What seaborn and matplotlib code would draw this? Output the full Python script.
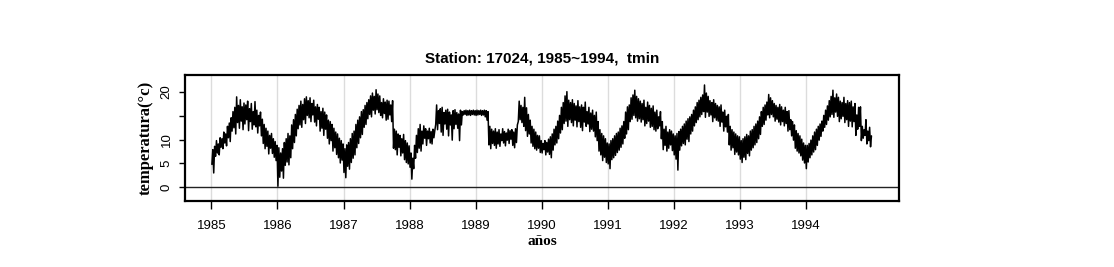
import numpy as np
import pandas as pd
import matplotlib
matplotlib.use("Agg")
import matplotlib.pyplot as plt
import seaborn as sns

# minimum temperature, read from the picture as a low / high value per 10-day bin
# (36 bins per year, Jan 1-10, Jan 11-20, Jan 21-31, Feb 1-10, ...)
years = list(range(1985, 1995))

tmin_lo = {
    1985: [4.8, 3.0, 6.5, 7.2, 6.8, 8.4, 8.1, 9.3, 8.7, 10.4, 9.6, 11.8,
           12.5, 11.2, 13.6, 12.4, 13.9, 12.1, 13.3, 14.2, 11.9, 13.8, 12.2, 13.1,
           12.7, 11.4, 12.9, 10.8, 9.2, 8.1, 8.6, 7.0, 8.2, 7.1, 6.3, 5.6],
    1986: [0.2, 2.1, 3.4, 1.9, 4.6, 5.3, 4.7, 6.2, 8.1, 9.4, 10.8, 12.3,
           13.1, 12.6, 14.2, 13.4, 15.1, 14.6, 13.8, 15.2, 13.7, 12.9, 14.3, 11.8,
           12.4, 10.9, 12.2, 10.3, 9.1, 9.8, 7.6, 8.3, 6.9, 6.2, 5.1, 5.7],
    1987: [3.1, 2.0, 4.4, 3.8, 5.2, 6.1, 6.8, 8.3, 9.2, 10.4, 11.1, 12.6,
           13.2, 14.4, 15.3, 14.8, 16.2, 15.4, 16.3, 15.7, 15.1, 14.6, 15.5, 14.1,
           14.3, 15.2, 13.8, 8.2, 7.9, 6.8, 8.4, 6.6, 7.2, 5.8, 5.2, 4.9],
    1988: [4.2, 1.7, 3.9, 6.1, 7.3, 8.2, 7.6, 9.1, 10.3, 8.8, 10.2, 9.3,
           9.1, 10.4, 13.2, 12.1, 13.4, 11.6, 10.9, 13.3, 12.2, 10.8, 13.1, 9.9,
           12.3, 13.2, 12.4, 9.8, 13.1, 15.2, 15.3, 15.1, 15.2, 15.1, 15.3, 15.2],
    1989: [15.1, 15.2, 15.3, 15.1, 15.2, 14.8, 14.1, 8.9, 8.1, 9.2, 8.8, 8.2,
           9.1, 8.6, 9.8, 9.3, 8.7, 9.9, 9.2, 10.1, 8.8, 8.3, 9.4, 13.8,
           14.2, 13.6, 12.8, 11.9, 10.7, 11.2, 9.3, 8.6, 8.1, 7.8, 8.2, 7.3],
    1990: [7.2, 7.9, 6.8, 7.4, 6.9, 6.2, 7.8, 8.9, 9.3, 10.2, 11.4, 12.1,
           13.4, 13.9, 12.8, 14.2, 13.6, 12.9, 14.1, 12.7, 13.8, 12.6, 11.9, 13.7,
           12.8, 13.3, 11.7, 12.2, 11.8, 10.6, 9.8, 7.6, 6.8, 5.6, 6.3, 5.2],
    1991: [4.9, 3.9, 5.8, 6.2, 6.7, 7.3, 7.8, 8.4, 9.1, 10.3, 11.2, 12.1,
           13.8, 14.3, 15.1, 14.6, 13.9, 14.4, 13.7, 14.2, 12.9, 13.4, 13.9, 12.6,
           12.8, 12.1, 11.8, 12.3, 12.9, 10.2, 7.9, 8.8, 7.6, 8.2, 8.9, 7.7],
    1992: [6.8, 5.9, 3.6, 7.8, 8.7, 9.2, 8.9, 10.1, 9.6, 11.2, 11.8, 12.9,
           13.6, 14.2, 14.8, 15.3, 15.9, 14.7, 15.8, 14.9, 15.2, 13.8, 14.6, 14.1,
           13.9, 12.8, 13.7, 11.8, 12.7, 11.6, 8.9, 7.8, 8.3, 6.9, 7.4, 6.8],
    1993: [5.9, 5.2, 6.3, 5.8, 7.1, 6.6, 7.8, 8.3, 8.9, 9.4, 10.2, 11.1,
           12.8, 13.2, 14.1, 15.2, 14.6, 15.3, 14.8, 13.9, 14.3, 13.7, 13.1, 13.8,
           12.9, 13.4, 11.8, 12.1, 10.8, 9.9, 8.2, 7.6, 7.2, 6.6, 5.7, 5.1],
    1994: [3.9, 5.3, 6.2, 6.8, 7.4, 7.9, 8.8, 9.9, 10.7, 11.8, 12.6, 13.2,
           14.1, 14.8, 15.3, 14.7, 15.8, 14.9, 13.8, 14.4, 14.9, 13.6, 14.2, 12.8,
           13.9, 12.7, 13.8, 10.9, 12.2, 12.8, 9.8, 10.3, 10.9, 9.1, 9.8, 8.5],
}
tmin_hi = {
    1985: [7.9, 8.6, 9.8, 9.1, 10.4, 10.2, 11.6, 11.2, 12.8, 13.5, 14.6, 15.9,
           16.8, 19.0, 17.2, 18.4, 16.9, 17.7, 17.3, 18.1, 16.5, 17.6, 15.9, 18.0,
           16.2, 15.1, 15.8, 14.3, 13.2, 12.4, 11.8, 10.9, 11.3, 10.2, 9.6, 8.8],
    1986: [8.3, 7.2, 8.1, 9.4, 10.2, 11.3, 10.8, 13.1, 14.2, 15.3, 16.4, 17.2,
           18.1, 17.4, 18.6, 19.0, 18.2, 18.8, 17.6, 18.3, 16.9, 17.4, 16.8, 15.9,
           16.6, 15.8, 15.2, 14.1, 13.8, 13.2, 12.4, 11.6, 11.2, 10.3, 9.8, 9.1],
    1987: [8.1, 8.9, 9.4, 10.2, 11.3, 11.8, 13.2, 14.1, 14.8, 15.9, 16.3, 17.2,
           17.8, 18.4, 19.2, 19.8, 19.1, 20.5, 19.6, 19.2, 17.8, 18.6, 17.9, 18.3,
           18.1, 17.3, 18.2, 12.2, 11.8, 11.2, 10.9, 10.2, 11.1, 9.8, 9.3, 8.7],
    1988: [7.2, 6.1, 8.8, 10.9, 12.3, 13.2, 11.8, 12.9, 12.3, 11.8, 12.4, 11.7,
           12.2, 11.9, 17.3, 16.1, 16.5, 16.8, 15.7, 16.2, 16.4, 15.8, 15.2, 16.1,
           16.3, 15.7, 15.4, 16.2, 15.9, 16.1, 16.2, 16.1, 16.2, 16.1, 16.2, 16.1],
    1989: [16.2, 16.1, 16.2, 16.1, 16.2, 16.1, 15.9, 12.8, 12.2, 11.8, 12.3, 11.6,
           12.1, 11.2, 12.3, 11.7, 11.4, 12.2, 11.9, 12.1, 11.6, 12.3, 13.1, 18.1,
           17.2, 16.8, 18.9, 16.7, 15.3, 14.1, 12.8, 12.2, 11.6, 10.9, 10.8, 9.8],
    1990: [9.2, 9.8, 9.4, 10.1, 10.6, 11.2, 12.2, 12.8, 13.9, 15.1, 16.8, 17.8,
           19.2, 20.1, 18.3, 17.8, 18.4, 17.6, 17.1, 18.2, 16.9, 17.3, 16.8, 17.9,
           15.9, 16.8, 15.6, 16.2, 15.1, 15.8, 13.8, 12.1, 11.3, 10.8, 10.2, 9.3],
    1991: [9.1, 9.8, 10.2, 10.8, 11.3, 11.6, 12.4, 12.9, 13.8, 15.8, 16.9, 17.3,
           18.8, 19.4, 20.4, 19.1, 18.6, 18.1, 17.6, 18.3, 16.8, 17.9, 17.2, 16.6,
           17.1, 15.8, 16.2, 14.8, 15.9, 13.8, 12.2, 12.8, 11.6, 12.1, 11.8, 11.2],
    1992: [10.8, 11.3, 11.7, 12.2, 12.8, 13.3, 13.9, 14.4, 14.8, 15.3, 16.2, 16.9,
           17.8, 18.3, 18.9, 19.4, 21.5, 19.8, 19.1, 18.2, 17.8, 18.4, 17.6, 17.2,
           16.9, 17.3, 15.8, 16.2, 14.9, 15.3, 12.8, 12.1, 11.6, 11.2, 10.8, 10.6],
    1993: [9.8, 10.2, 10.6, 11.1, 10.8, 11.8, 12.1, 12.8, 13.3, 13.9, 14.8, 15.9,
           16.8, 17.3, 17.9, 19.5, 18.8, 18.2, 17.6, 17.2, 16.8, 17.4, 16.9, 16.2,
           16.8, 15.9, 16.1, 14.2, 13.8, 13.1, 11.9, 11.3, 10.8, 10.1, 9.3, 8.8],
    1994: [8.8, 9.2, 9.9, 10.8, 11.6, 12.2, 12.8, 13.3, 13.9, 15.1, 16.2, 17.1,
           18.2, 19.1, 20.4, 18.8, 19.6, 18.9, 18.1, 17.8, 18.9, 17.6, 18.2, 17.8,
           18.1, 16.9, 17.6, 15.2, 16.8, 16.9, 12.8, 12.1, 14.2, 11.8, 12.6, 10.8],
}

rows = []
for y in years:
    for i, (lo, hi) in enumerate(zip(tmin_lo[y], tmin_hi[y])):
        rows.append((y + (i + 0.25) / 36, lo))
        rows.append((y + (i + 0.75) / 36, hi))
df = pd.DataFrame(rows, columns=["fecha", "tmin"])

sns.set_style("white")
plt.rcParams["font.family"] = ["Liberation Sans", "DejaVu Sans"]
plt.rcParams["text.color"] = "black"
plt.rcParams["axes.labelcolor"] = "black"
plt.rcParams["xtick.color"] = "black"
plt.rcParams["ytick.color"] = "black"

fig = plt.figure(figsize=(11.14, 2.67), dpi=100)
ax = fig.add_axes([185 / 1114, 1 - 201 / 267, 714 / 1114, 126 / 267])

for y in years:
    ax.axvline(y, color="#dcdcdc", lw=1, zorder=0)
ax.axhline(0, color="#222222", lw=1, zorder=1)

sns.lineplot(data=df, x="fecha", y="tmin", color="black", lw=1.1,
             estimator=None, sort=False, ax=ax, zorder=2)

ax.set_xlim(1984.6, 1995.41)
ax.set_ylim(-2.9, 23.6)
ax.set_xticks(years)
ax.set_xticklabels([str(y) for y in years], fontsize=9.5)
ax.set_yticks([0, 5, 10, 15, 20])
ax.set_yticklabels(["0", "5", "10", "", "20"], fontsize=9.5, rotation=90, va="center")
ax.tick_params(axis="x", bottom=True, direction="out", length=6, width=1, pad=8)
ax.tick_params(axis="y", left=True, direction="out", length=4, width=1, pad=5)
for s in ax.spines.values():
    s.set_linewidth(1.6)
    s.set_color("black")

ax.set_title("Station: 17024, 1985~1994,  tmin", fontsize=11, fontweight="bold", pad=9)
ax.set_xlabel("años", fontsize=11, fontweight="bold", family="Liberation Serif", labelpad=2)
ax.set_ylabel("temperatura(°c)", fontsize=12, fontweight="bold", family="Liberation Serif", labelpad=5)

fig.savefig("out.png", dpi=100)
